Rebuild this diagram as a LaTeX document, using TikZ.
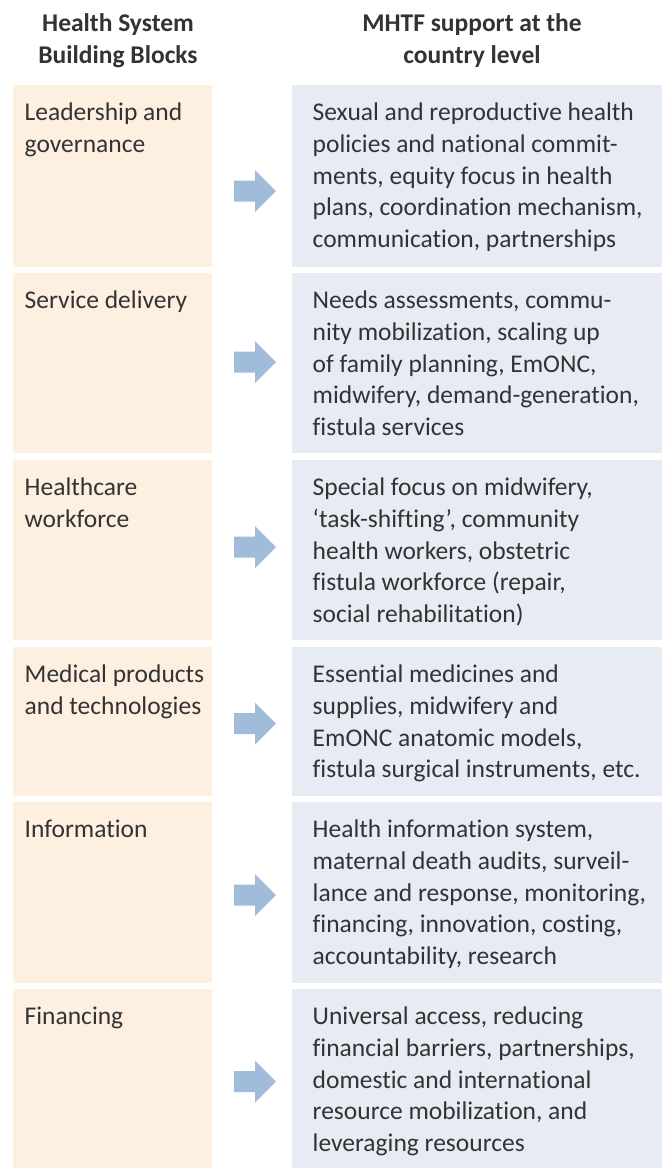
\documentclass[tikz,border=0pt]{standalone}
\usepackage{fontspec}
\setmainfont{Carlito}[Ligatures=NoCommon]
\definecolor{peach}{HTML}{FEF0E1}
\definecolor{bluebox}{HTML}{E7EBF4}
\definecolor{arrowc}{HTML}{A1BBDA}
\definecolor{txt}{HTML}{333333}
\tikzset{
  lbox/.style={fill=peach, draw=none, inner sep=0pt, anchor=north west, minimum width=199pt},
  rbox/.style={fill=bluebox, draw=none, inner sep=0pt, anchor=north west, minimum width=370pt},
  btext/.style={inner sep=0pt, anchor=north west, align=left, text=txt, font=\fontsize{25.5}{31.7}\selectfont},
  htext/.style={inner sep=0pt, anchor=north, align=center, text=txt, font=\bfseries\fontsize{25.5}{31.7}\selectfont},
}
% baseline = top + 0.7*31.7 = top + 22.19
\newcommand{\blockarrow}[2]{%
  \fill[arrowc] (234,#2+10.5) -- (255,#2+10.5) -- (255,#2+21) -- (276,#2) -- (255,#2-21) -- (255,#2-10.5) -- (234,#2-10.5) -- cycle;
  \coordinate (#1) at (255,#2);}
\begin{document}
\begin{tikzpicture}[x=1pt,y=-1pt]
\useasboundingbox (0,0) rectangle (662,1168);
% headers (first baseline 31.7)
\node[htext] (h1) at (118,9.5) {\strut Health System\\Building Blocks};
\node[htext] (h2) at (472,9.5) {\strut MHTF support at the\\country level};
% rows: top, height
\foreach \n/\t/\h in {1/85/182, 2/273/180, 3/460/180, 4/647/149, 5/802/181, 6/989/179}{
  \node[lbox, minimum height=\h pt] (l\n) at (13,\t) {};
  \node[rbox, minimum height=\h pt] (r\n) at (292,\t) {};
}
% left texts (first baseline = row top + 35.5)
\node[btext] (lt1) at (24.5,98.3) {\strut Leadership and\\governance};
\node[btext] (lt2) at (24.5,286.3) {\strut Service delivery};
\node[btext] (lt3) at (24.5,473.3) {\strut Healthcare\\workforce};
\node[btext] (lt4) at (24.5,660.3) {\strut Medical products\\and technologies};
\node[btext] (lt5) at (24.5,815.3) {\strut Information};
\node[btext] (lt6) at (24.5,1002.3) {\strut Financing};
% right texts
\node[btext] (rt1) at (312.5,98.3) {\strut Sexual and reproductive health\\policies and national commit-\\ments, equity focus in health\\plans, coordination mechanism,\\communication, partnerships};
\node[btext] (rt2) at (312.5,286.3) {\strut Needs assessments, commu-\\nity mobilization, scaling up\\of family planning, EmONC,\\midwifery, demand-generation,\\fistula services};
\node[btext] (rt3) at (312.5,473.3) {\strut Special focus on midwifery,\\‘task-shifting’, community\\health workers, obstetric\\fistula workforce (repair,\\social rehabilitation)};
\node[btext] (rt4) at (312.5,660.3) {\strut Essential medicines and\\supplies, midwifery and\\EmONC anatomic models,\\fistula surgical instruments, etc.};
\node[btext] (rt5) at (312.5,815.3) {\strut Health information system,\\maternal death audits, surveil-\\lance and response, monitoring,\\financing, innovation, costing,\\accountability, research};
\node[btext] (rt6) at (312.5,1002.3) {\strut Universal access, reducing\\financial barriers, partnerships,\\domestic and international\\resource mobilization, and\\leveraging resources};
% arrows
\blockarrow{a1}{191}
\blockarrow{a2}{362}
\blockarrow{a3}{547}
\blockarrow{a4}{723.5}
\blockarrow{a5}{895}
\blockarrow{a6}{1081.5}
\end{tikzpicture}
\end{document}
